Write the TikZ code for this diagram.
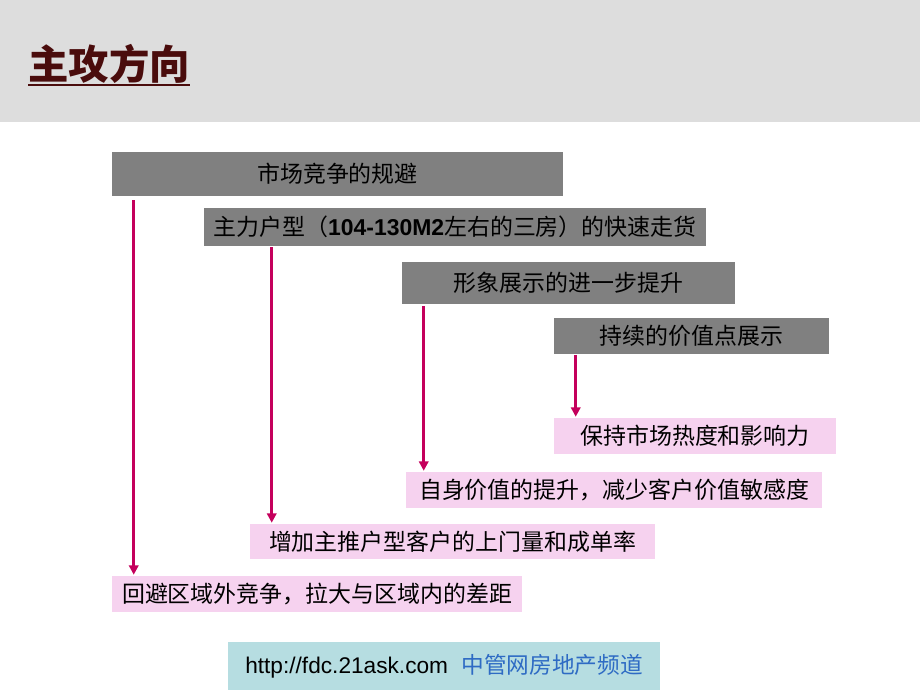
\documentclass[tikz,border=0pt]{standalone}
\usepackage{fontspec}
\setmainfont{Liberation Sans}
\newfontfamily\cjk{Noto Sans CJK SC}
\newfontfamily\lat{Liberation Sans}
\usetikzlibrary{arrows.meta,calc}
\definecolor{BandClr}{HTML}{DDDDDD}
\definecolor{TitleClr}{HTML}{4A0C0C}
\definecolor{HeadClr}{HTML}{808080}
\definecolor{GoalClr}{HTML}{F6D2EF}
\definecolor{LinkClr}{HTML}{C4005C}
\definecolor{FootClr}{HTML}{B6DDE1}
\definecolor{SiteClr}{HTML}{2E6BC4}
\newdimen\px \px=0.75pt

\begin{document}
\begin{tikzpicture}[x=0.75pt,y=-0.75pt,
  head/.style={fill=HeadClr,inner sep=0pt,font=\cjk\fontsize{17.2}{20}\selectfont},
  goal/.style={fill=GoalClr,inner sep=0pt,font=\cjk\fontsize{17.2}{20}\selectfont},
  lnk/.style={draw=LinkClr,line width=2.1pt,-{Triangle[length=7pt,width=7pt]},shorten >=0.75pt}]
\useasboundingbox (0,0) rectangle (920,690);

\fill[BandClr] (0,0) rectangle (920,122);
\node[anchor=base west,inner sep=0pt,text=TitleClr,font=\cjk\bfseries\fontsize{30.3}{34}\selectfont] (title) at (28,79) {主攻方向};
\draw[TitleClr,line width=1.2pt] ([yshift=-4.5pt]title.base west) -- ([yshift=-4.5pt]title.base east);

% headings
\node[head,minimum width=451\px,minimum height=44\px] (g1) at (337.5,174) {市场竞争的规避};
\node[head,minimum width=502\px,minimum height=38\px] (g2) at (455,227) {主力户型（{\lat\bfseries 104-130M2}左右的三房）的快速走货};
\node[head,minimum width=333\px,minimum height=42\px] (g3) at (568.5,283) {形象展示的进一步提升};
\node[head,minimum width=275\px,minimum height=36\px] (g4) at (691.5,336) {持续的价值点展示};

% results
\node[goal,minimum width=282\px,minimum height=36\px] (r4) at (695,436) {保持市场热度和影响力};
\node[goal,minimum width=416\px,minimum height=36\px] (r3) at (614,490) {自身价值的提升，减少客户价值敏感度};
\node[goal,minimum width=405\px,minimum height=35\px] (r2) at (452.5,541.5) {增加主推户型客户的上门量和成单率};
\node[goal,minimum width=410\px,minimum height=36\px] (r1) at (317,594) {回避区域外竞争，拉大与区域内的差距};

\coordinate (a1) at ([xshift=16.5pt]g1.south west);
\coordinate (a2) at ([xshift=51pt]g2.south west);
\coordinate (a3) at ([xshift=16.5pt]g3.south west);
\coordinate (a4) at ([xshift=16.5pt]g4.south west);
\draw[lnk,shorten <=3pt] (a1) -- (a1 |- r1.north);
\draw[lnk,shorten <=0.75pt] (a2) -- (a2 |- r2.north);
\draw[lnk,shorten <=1.5pt] (a3) -- (a3 |- r3.north);
\draw[lnk,shorten <=0.75pt] (a4) -- (a4 |- r4.north);

\node[fill=FootClr,minimum width=432\px,minimum height=48\px,inner sep=0pt] (foot) at (444,666)
  {\fontsize{17}{20}\selectfont http://fdc.21ask.com\hspace{10pt}{\cjk\color{SiteClr}中管网房地产频道}};
\end{tikzpicture}
\end{document}
